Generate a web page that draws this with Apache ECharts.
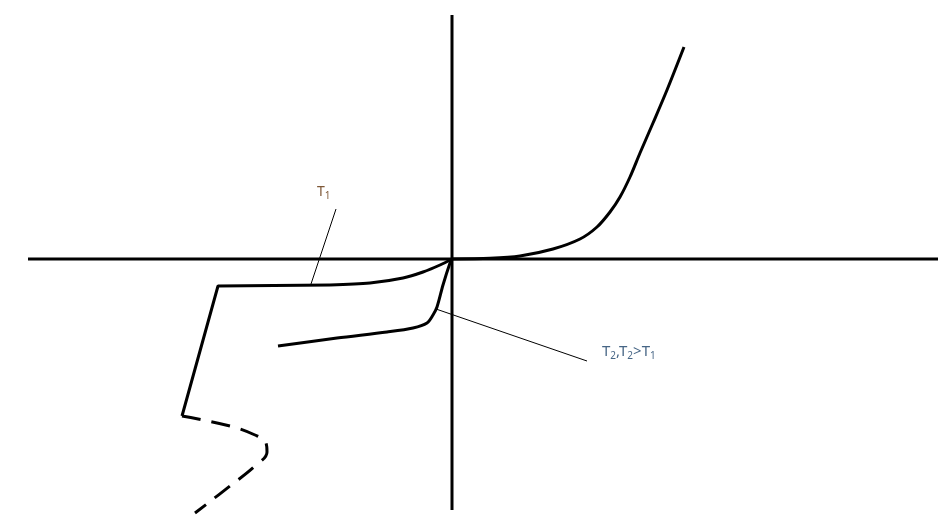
<!DOCTYPE html>
<html>
<head>
<meta charset="utf-8">
<script src="https://cdn.jsdelivr.net/npm/echarts@6/dist/echarts.min.js"></script>
<style>html,body{margin:0;padding:0;background:#fff}#c{width:947px;height:518px}</style>
</head>
<body>
<div id="c"></div>
<script>
// Coordinates in sketch units (voltage on x, current on y), origin at axis crossing
const axisH = [[-42.4, 0], [48.6, 0]];
const axisV = [[0, 24.4], [0, -25.1]];
const forward = [[0,0],[3.8,0.07],[6.8,0.3],[10.1,1.0],[12.8,2.0],[14.5,3.2],[15.8,4.7],[16.8,6.2],[17.8,8.2],[18.8,10.6],[20.1,13.6],[21.5,16.9],[23.2,21.2]];
const t1Curve = [[0,0],[-1.2,-0.6],[-2.9,-1.3],[-4.9,-1.9],[-8.2,-2.4],[-12.2,-2.6]];
const t1Break = [[-12.2,-2.6],[-23.4,-2.7],[-27.0,-15.7]];
const t1Dashed = [[-27.0,-15.7],[-22.2,-16.7],[-19.7,-17.6],[-18.6,-18.4],[-18.5,-19.3],[-19.7,-20.7],[-22.2,-22.7],[-25.7,-25.4]];
const t2Curve = [[0,0],[-0.2,-0.4],[-0.9,-2.6],[-1.5,-4.8],[-1.9,-5.6],[-2.5,-6.4],[-3.9,-6.9],[-6.5,-7.3],[-11.5,-7.9],[-17.4,-8.7]];
const t1Leader = [[-11.6,5.0],[-14.1,-2.5]];
const t2Leader = [[-1.6,-5.0],[13.5,-10.2]];
const labelT1 = [-13.5, 6.7];
const labelT2 = [15.0, -9.3];

const thick = {color:'#000', width:3};
function line(data, style, smooth){
  return {type:'line', data, symbol:'none', smooth: smooth||false, lineStyle:style, silent:true, z:2};
}
const c1 = '#5e2e05', c2 = '#183f66';
const rich = {
  b1:{fontSize:14, lineHeight:18, color:c1, fontFamily:'Noto Sans'},
  s1:{fontSize:10, lineHeight:10, verticalAlign:'bottom', color:c1, fontFamily:'Noto Sans'},
  b2:{fontSize:15, lineHeight:19, color:c2, fontFamily:'Noto Sans'},
  s2:{fontSize:10, lineHeight:10, verticalAlign:'bottom', color:c2, fontFamily:'Noto Sans'}
};
const chart = echarts.init(document.getElementById('c'));
chart.setOption({
  animation:false,
  backgroundColor:'#fff',
  grid:{left:0,right:0,top:0,bottom:0},
  xAxis:{type:'value', min:-45.2, max:49.5, show:false},
  yAxis:{type:'value', min:-25.9, max:25.9, show:false},
  series:[
    line(axisH, thick),
    line(axisV, thick),
    line(forward, thick, 0.3),
    line(t1Curve, thick, 0.3),
    line(t1Break, thick),
    line(t1Dashed, {color:'#000', width:3, type:[19,11]}, 0.4),
    line(t2Curve, thick, 0.3),
    line(t1Leader, {color:'#000', width:1}),
    line(t2Leader, {color:'#000', width:1}),
    {type:'scatter', symbolSize:0, silent:true, data:[
      {value:labelT1, label:{show:true, position:'inside', align:'left', formatter:'{b1|T}{s1|1}', rich}},
      {value:labelT2, label:{show:true, position:'inside', align:'left', formatter:'{b2|T}{s2|2}{b2|,T}{s2|2}{b2|>T}{s2|1}', rich}}
    ]}
  ]
});
</script>
</body>
</html>
